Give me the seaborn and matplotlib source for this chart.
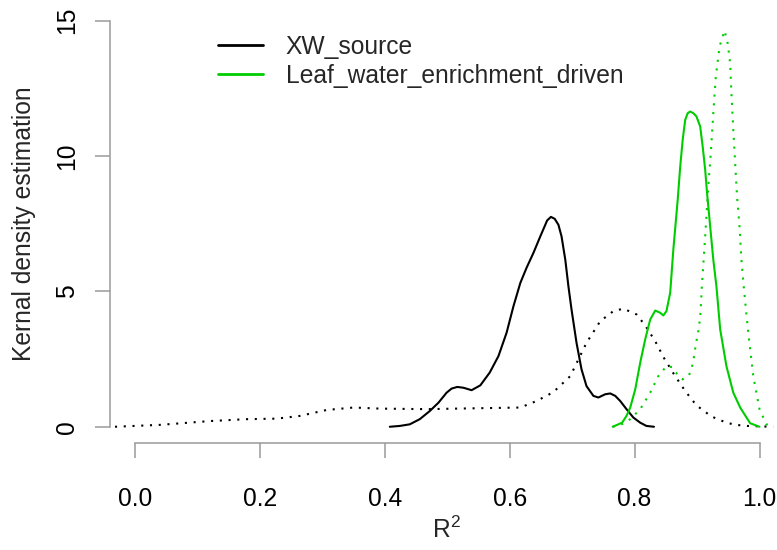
import matplotlib
matplotlib.use("Agg")
import matplotlib.pyplot as plt
from matplotlib.lines import Line2D
import seaborn as sns
import pandas as pd

# ---- data ----
xw_solid_x = [0.408, 0.424, 0.440, 0.456, 0.472, 0.486, 0.499, 0.507, 0.516, 0.526, 0.539,
              0.553, 0.568, 0.582, 0.595, 0.606, 0.617, 0.627, 0.638, 0.649, 0.660, 0.666,
              0.672, 0.678, 0.683, 0.689, 0.694, 0.699, 0.707, 0.715, 0.723, 0.734, 0.742,
              0.753, 0.761, 0.769, 0.777, 0.787, 0.798, 0.809, 0.819, 0.831]
xw_solid_y = [0.0, 0.03, 0.09, 0.28, 0.58, 0.89, 1.26, 1.41, 1.47, 1.44, 1.35,
              1.53, 2.0, 2.61, 3.47, 4.45, 5.31, 5.87, 6.42, 7.03, 7.62, 7.75,
              7.68, 7.46, 7.03, 6.17, 5.19, 4.33, 3.1, 2.12, 1.5, 1.14, 1.08,
              1.2, 1.23, 1.14, 0.95, 0.65, 0.34, 0.15, 0.03, 0.0]

xw_dot_x = [-0.032, 0.04, 0.12, 0.179, 0.227, 0.264, 0.307, 0.35, 0.392, 0.467, 0.515,
            0.617, 0.643, 0.670, 0.697, 0.723, 0.745, 0.766, 0.782, 0.803, 0.817, 0.833,
            0.847, 0.863, 0.881, 0.899, 0.923, 0.947, 0.962, 0.98, 1.022]
xw_dot_y = [0.0, 0.07, 0.21, 0.28, 0.30, 0.40, 0.62, 0.71, 0.67, 0.65, 0.67,
            0.71, 0.95, 1.28, 1.87, 3.1, 3.9, 4.27, 4.36, 4.15, 3.74, 3.16,
            2.54, 1.94, 1.32, 0.79, 0.38, 0.15, 0.07, 0.03, 0.0]

leaf_solid_x = [0.765, 0.780, 0.787, 0.793, 0.801, 0.809, 0.817, 0.825, 0.833, 0.841, 0.846,
                0.851, 0.857, 0.862, 0.869, 0.873, 0.877, 0.881, 0.885, 0.889, 0.894, 0.899,
                0.905, 0.909, 0.913, 0.916, 0.921, 0.926, 0.931, 0.937, 0.947, 0.958, 0.969,
                0.985, 1.0]
leaf_solid_y = [0.0, 0.15, 0.40, 0.71, 1.38, 2.37, 3.23, 3.96, 4.29, 4.21, 4.11,
                4.27, 4.95, 6.54, 8.38, 9.6, 10.6, 11.33, 11.58, 11.64, 11.58, 11.46,
                11.09, 10.35, 9.49, 8.63, 7.4, 6.17, 5.19, 3.6, 2.24, 1.26, 0.71,
                0.13, 0.0]

leaf_dot_x = [0.765, 0.780, 0.793, 0.809, 0.825, 0.838, 0.851, 0.860, 0.868, 0.877, 0.887,
              0.891, 0.895, 0.898, 0.902, 0.905, 0.908, 0.913, 0.918, 0.922, 0.926, 0.930,
              0.936, 0.944, 0.949, 0.953, 0.955, 0.958, 0.961, 0.964, 0.968, 0.971, 0.975,
              0.982, 0.990, 1.0, 1.011, 1.022]
leaf_dot_y = [0.0, 0.1, 0.28, 0.65, 1.26, 1.87, 2.24, 2.2, 1.95, 1.75, 1.9,
              2.12, 2.57, 3.04, 3.53, 4.02, 5.3, 7.03, 8.88, 10.1, 11.58, 12.93,
              14.04, 14.63, 14.16, 13.42, 12.32, 10.97, 9.74, 8.51, 7.4, 6.17, 5.1,
              3.47, 1.87, 0.65, 0.09, 0.0]

legend_labels = ["XW_source", "Leaf_water_enrichment_driven"]
x_ticks = [0.0, 0.2, 0.4, 0.6, 0.8, 1.0]
x_tick_labels = ["0.0", "0.2", "0.4", "0.6", "0.8", "1.0"]
y_ticks = [0, 5, 10, 15]
y_tick_labels = ["0", "5", "10", "15"]

# ---- style ----
sns.set_theme(style="white")
plt.rcParams["font.family"] = ["Liberation Sans", "DejaVu Sans"]
plt.rcParams["mathtext.fontset"] = "custom"
plt.rcParams["mathtext.rm"] = "Liberation Sans"
plt.rcParams["mathtext.it"] = "Liberation Sans:italic"

GREEN = "#00CD00"
AXC = "#9a9a9a"
FS = 17.7

W, H = 777, 550
fig = plt.figure(figsize=(W / 100, H / 100), dpi=100)
ax = fig.add_axes([110 / W, 107 / H, 667 / W, 438.7 / H])

dotted = (0, (1, 3.2))
sns.lineplot(x=xw_dot_x, y=xw_dot_y, ax=ax, color="black", linewidth=1.5,
             linestyle=dotted, sort=False, estimator=None)
sns.lineplot(x=leaf_dot_x, y=leaf_dot_y, ax=ax, color=GREEN, linewidth=1.5,
             linestyle=dotted, sort=False, estimator=None)
sns.lineplot(x=xw_solid_x, y=xw_solid_y, ax=ax, color="black", linewidth=1.5,
             sort=False, estimator=None)
sns.lineplot(x=leaf_solid_x, y=leaf_solid_y, ax=ax, color=GREEN, linewidth=1.5,
             sort=False, estimator=None)

ax.set_xlim(-0.04, 1.028)
ax.set_ylim(-0.6, 15.6)

for s in ["top", "right"]:
    ax.spines[s].set_visible(False)
for s in ["left", "bottom"]:
    ax.spines[s].set_color(AXC)
    ax.spines[s].set_linewidth(1.1)
ax.spines["left"].set_bounds(0, 15)
ax.spines["bottom"].set_bounds(0, 1)

ax.set_xticks(x_ticks)
ax.set_xticklabels(x_tick_labels)
ax.set_yticks(y_ticks)
ax.set_yticklabels(y_tick_labels)
ax.tick_params(axis="both", which="major", direction="out", length=11, width=1.1,
               color=AXC, labelcolor="black", labelsize=FS, bottom=True, left=True)
ax.tick_params(axis="x", pad=21)
ax.tick_params(axis="y", pad=11)
for lab in ax.get_yticklabels():
    lab.set_rotation(90)
    lab.set_va("center")
    lab.set_ha("right")

ax.set_xlabel(r"$\mathregular{R^2}$", fontsize=FS)
ax.set_ylabel("Kernal density estimation", fontsize=FS)
ax.xaxis.set_label_coords(0.505, -0.168)
ax.yaxis.set_label_coords(-0.111, 0.5)

handles = [Line2D([0], [0], color="black", lw=2.0),
           Line2D([0], [0], color=GREEN, lw=2.0)]
ax.legend(handles, legend_labels, loc="upper left",
          bbox_to_anchor=(218 / W, 1 - 35 / H), bbox_transform=fig.transFigure,
          frameon=False, borderpad=0, borderaxespad=0, handlelength=1.85,
          handletextpad=0.9, labelspacing=0.2, fontsize=FS)

fig.savefig("out.png", dpi=100)
